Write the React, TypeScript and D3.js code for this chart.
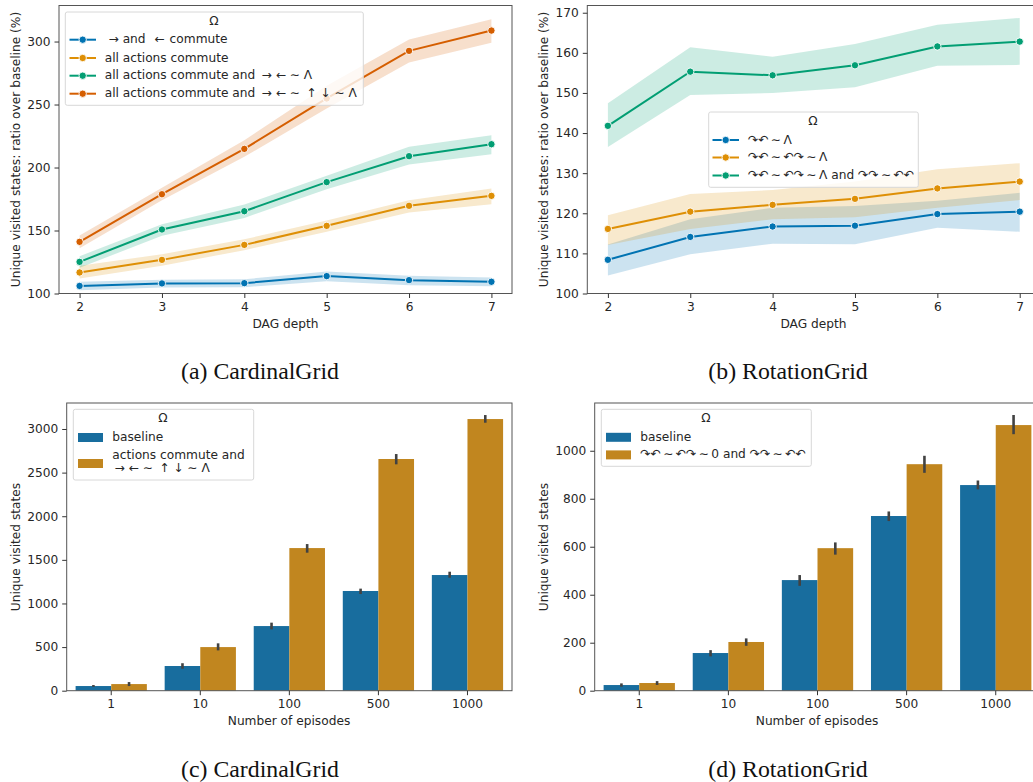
import * as d3 from 'd3';
import { useRef, useEffect } from 'react';

const depths = [2, 3, 4, 5, 6, 7];
const episodes = ['1', '10', '100', '500', '1000'];
const lineColors = ['#0173b2', '#de8f05', '#029e73', '#d55e00'];
const barColors = ['#186d9e', '#c1861f'];

// (a) CardinalGrid
const cardinalBlue = [106, 108, 108.2, 113.8, 110.6, 109.3];
const cardinalBlueLow = [102.6, 104.8, 105, 109.8, 106.6, 105.8];
const cardinalBlueHigh = [109.3, 111, 111.3, 117.5, 114, 112.7];
const cardinalOrange = [116.7, 126.7, 138.6, 153.7, 169.6, 177.5];
const cardinalOrangeLow = [111.9, 122, 134.4, 149, 164.3, 170.9];
const cardinalOrangeHigh = [122, 131.2, 143, 158, 174, 183.3];
const cardinalGreen = [125.1, 150.8, 165.3, 188.4, 209, 218.5];
const cardinalGreenLow = [120.4, 145.8, 160, 182.8, 202.4, 210.6];
const cardinalGreenHigh = [129.6, 155, 170.6, 193.4, 216.4, 225.7];
const cardinalRed = [141, 178.8, 214.8, 254.8, 292.6, 308.7];
const cardinalRedLow = [136, 174, 208.5, 246.8, 283.3, 299];
const cardinalRedHigh = [146, 183.9, 221.7, 265, 301.6, 317.7];

// (b) RotationGrid
const rotationBlue = [108.4, 114.1, 116.7, 116.9, 119.8, 120.4];
const rotationBlueLow = [104.5, 109.8, 112.4, 112.3, 116.4, 115.4];
const rotationBlueHigh = [112.2, 118.5, 121.4, 121.8, 123.1, 125.1];
const rotationOrange = [116.1, 120.4, 122.1, 123.6, 126.2, 127.9];
const rotationOrangeLow = [112.1, 116.1, 118.5, 119, 121.4, 123.3];
const rotationOrangeHigh = [119.5, 124.8, 125.8, 127.9, 131, 132.5];
const rotationGreen = [141.8, 155.3, 154.4, 156.9, 161.6, 162.8];
const rotationGreenLow = [136.5, 149.5, 150, 151.4, 156.8, 157];
const rotationGreenHigh = [147.4, 161.4, 159, 162.2, 167, 168.7];

// (c) CardinalGrid bars
const cardinalBaseline = [53.5, 283, 741, 1143, 1326];
const cardinalBaselineErr = [[44, 65], [252, 315], [703, 780], [1108, 1170], [1295, 1364]];
const cardinalActions = [76, 500, 1635, 2656, 3114];
const cardinalActionsErr = [[53, 99], [462, 543], [1582, 1681], [2595, 2713], [3072, 3160]];

// (d) RotationGrid bars
const rotationBaseline = [23.6, 157, 461, 728, 857];
const rotationBaselineErr = [[16.7, 30.5], [143, 169], [437, 482], [707, 747], [839, 876]];
const rotationActions = [32, 203, 594, 944, 1107];
const rotationActionsErr = [[24, 40], [187, 218], [567, 618], [908, 979], [1069, 1149]];

// thin spaces (\u2009) keep the glyph runs the same width as the reference
const legendA = [
  '\u00a0\u2192 and\u2009\u2009 \u2190\u200a commute',
  'all actions commute',
  'all actions commute and\u2009 \u2192 \u2190 \u223c \u039b',
  'all actions commute and\u2009 \u2192 \u2190 \u223c\u2009 \u2191 \u2193 \u223c \u039b',
];
const legendB = [
  '\u21b7\u21b6\u2009\u223c\u2009\u039b',
  '\u21b7\u21b6\u2009\u223c\u2009\u21b6\u21b7\u2009\u223c\u2009\u039b',
  '\u21b7\u21b6\u2009\u223c\u2009\u21b6\u21b7\u2009\u223c\u2009\u039b and \u21b7\u21b7\u2009\u223c\u2009\u21b6\u21b6',
];
const legendD = ['baseline', '\u21b7\u21b6\u2009\u223c\u2009\u21b6\u21b7\u2009\u223c\u20090 and \u21b7\u21b7\u2009\u223c\u2009\u21b6\u21b6'];

const font = '"DejaVu Sans"';
const ink = '#262626';
const textSize = 12.2;

type G = d3.Selection<SVGGElement, unknown, null, undefined>;

function drawFrame(g: G, left: number, right: number, top: number, bottom: number) {
  g.append('rect')
    .attr('x', left).attr('y', top)
    .attr('width', right - left).attr('height', bottom - top)
    .attr('fill', 'none').attr('stroke', '#555').attr('stroke-width', 1);
}

function styleAxis(a: d3.Selection<SVGGElement, unknown, null, undefined>) {
  a.select('.domain').remove();
  a.selectAll('line').attr('stroke', '#333');
  a.selectAll('text').attr('font-family', font).attr('font-size', textSize).attr('fill', ink);
}

function drawLabels(g: G, yText: string, xText: string, caption: string, yLabelX: number, xLabelX: number, xLabelY: number, midY: number, capX: number, capY: number) {
  g.append('text')
    .attr('transform', `translate(${yLabelX},${midY}) rotate(-90)`)
    .attr('text-anchor', 'middle').attr('dominant-baseline', 'middle')
    .attr('font-family', font).attr('font-size', textSize).attr('fill', ink)
    .text(yText);
  g.append('text')
    .attr('x', xLabelX).attr('y', xLabelY)
    .attr('text-anchor', 'middle').attr('dominant-baseline', 'middle')
    .attr('font-family', font).attr('font-size', textSize).attr('fill', ink)
    .text(xText);
  g.append('text')
    .attr('x', capX).attr('y', capY)
    .attr('text-anchor', 'middle')
    .attr('font-family', '"Liberation Serif"').attr('font-size', 23.8).attr('fill', '#111')
    .text(caption);
}

function drawLegendBox(g: G, x0: number, y0: number, x1: number, y1: number, titleX: number, titleY: number) {
  g.append('rect')
    .attr('x', x0).attr('y', y0)
    .attr('width', x1 - x0).attr('height', y1 - y0)
    .attr('rx', 2)
    .attr('fill', '#fff').attr('fill-opacity', 0.8)
    .attr('stroke', '#d8d8d8').attr('stroke-width', 1);
  g.append('text')
    .attr('x', titleX).attr('y', titleY)
    .attr('text-anchor', 'middle').attr('dominant-baseline', 'middle')
    .attr('font-family', font).attr('font-size', textSize).attr('fill', ink)
    .text('\u03a9');
}

function legendText(g: G, x: number, y: number, s: string) {
  g.append('text')
    .attr('x', x).attr('y', y)
    .attr('dominant-baseline', 'middle')
    .attr('font-family', font).attr('font-size', textSize).attr('fill', ink)
    .style('white-space', 'pre')
    .text(s);
}

interface LineSeries { mean: number[]; low: number[]; high: number[]; }

function drawLinePanel(g: G, left: number, right: number, top: number, bottom: number, yMax: number, yTicks: number[], series: LineSeries[]) {
  const x = d3.scaleLinear().domain([1.75, 7.25]).range([left, right]);
  const y = d3.scaleLinear().domain([100, yMax]).range([bottom, top]);

  const area = d3.area<number>()
    .x((_, i) => x(depths[i]));
  const line = d3.line<number>()
    .x((_, i) => x(depths[i]))
    .y(d => y(d));

  series.forEach((s, k) => {
    g.append('path')
      .attr('d', area.y0((_, i) => y(s.low[i])).y1((_, i) => y(s.high[i]))(s.mean))
      .attr('fill', lineColors[k]).attr('fill-opacity', 0.2);
  });
  series.forEach((s, k) => {
    g.append('path')
      .attr('d', line(s.mean))
      .attr('fill', 'none').attr('stroke', lineColors[k]).attr('stroke-width', 2);
    g.selectAll(null).data(s.mean).enter().append('circle')
      .attr('cx', (_, i) => x(depths[i]))
      .attr('cy', d => y(d))
      .attr('r', 3.7)
      .attr('fill', lineColors[k]).attr('stroke', '#fff').attr('stroke-width', 0.9);
  });

  drawFrame(g, left, right, top, bottom);
  g.append('g').attr('transform', `translate(0,${bottom})`)
    .call(d3.axisBottom(x).tickValues(depths).tickFormat(d3.format('d')).tickSize(4.5).tickPadding(4))
    .call(styleAxis);
  g.append('g').attr('transform', `translate(${left},0)`)
    .call(d3.axisLeft(y).tickValues(yTicks).tickFormat(d3.format('d')).tickSize(4.5).tickPadding(4))
    .call(styleAxis);
}

interface BarSeries { values: number[]; err: number[][]; }

function drawBarPanel(g: G, left: number, right: number, top: number, bottom: number, yMax: number, yTicks: number[], series: BarSeries[]) {
  const x = d3.scaleBand<string>().domain(episodes).range([left, right]);
  const inner = d3.scaleBand<number>().domain([0, 1]).range([0, x.bandwidth()]).paddingOuter(0.25);
  const y = d3.scaleLinear().domain([0, yMax]).range([bottom, top]);

  series.forEach((s, k) => {
    g.selectAll(null).data(s.values).enter().append('rect')
      .attr('x', (_, i) => x(episodes[i])! + inner(k)!)
      .attr('y', d => y(d))
      .attr('width', inner.bandwidth())
      .attr('height', d => y(0) - y(d))
      .attr('fill', barColors[k]);
  });
  series.forEach((s, k) => {
    g.selectAll(null).data(s.err).enter().append('line')
      .attr('x1', (_, i) => x(episodes[i])! + inner(k)! + inner.bandwidth() / 2)
      .attr('x2', (_, i) => x(episodes[i])! + inner(k)! + inner.bandwidth() / 2)
      .attr('y1', d => y(d[0]))
      .attr('y2', d => y(d[1]))
      .attr('stroke', '#424242').attr('stroke-width', 2.6);
  });

  drawFrame(g, left, right, top, bottom);
  g.append('g').attr('transform', `translate(0,${bottom})`)
    .call(d3.axisBottom(x).tickSize(4.5).tickPadding(4))
    .call(styleAxis);
  g.append('g').attr('transform', `translate(${left},0)`)
    .call(d3.axisLeft(y).tickValues(yTicks).tickFormat(d3.format('d')).tickSize(4.5).tickPadding(4))
    .call(styleAxis);
}

const App = () => {
  const ref = useRef<SVGSVGElement>(null);

  useEffect(() => {
    if (!ref.current) return;
    const svg = d3.select(ref.current);
    svg.selectAll('*').remove();
    const g = svg.append('g') as unknown as G;

    const yLine = 'Unique visited states: ratio over baseline (%)';
    const yBar = 'Unique visited states';

    // (a)
    drawLinePanel(g, 59, 512, 5.5, 293.5, 328.6, [100, 150, 200, 250, 300], [
      { mean: cardinalBlue, low: cardinalBlueLow, high: cardinalBlueHigh },
      { mean: cardinalOrange, low: cardinalOrangeLow, high: cardinalOrangeHigh },
      { mean: cardinalGreen, low: cardinalGreenLow, high: cardinalGreenHigh },
      { mean: cardinalRed, low: cardinalRedLow, high: cardinalRedHigh },
    ]);
    drawLabels(g, yLine, 'DAG depth', '(a) CardinalGrid', 16.2, 285.5, 324, 149.5, 260, 378.8);
    drawLegendBox(g, 65.3, 12, 363.3, 105.3, 214, 21.5);
    legendA.forEach((s, i) => {
      const ry = [39.7, 58, 75.7, 93.7][i];
      g.append('line').attr('x1', 69.5).attr('x2', 96).attr('y1', ry).attr('y2', ry)
        .attr('stroke', lineColors[i]).attr('stroke-width', 2);
      g.append('circle').attr('cx', 82.7).attr('cy', ry).attr('r', 3.7)
        .attr('fill', lineColors[i]).attr('stroke', '#fff').attr('stroke-width', 0.9);
      legendText(g, 104.7, ry, s);
    });

    // (b)
    drawLinePanel(g, 587.3, 1040.3, 5.5, 293.5, 171.8, [100, 110, 120, 130, 140, 150, 160, 170], [
      { mean: rotationBlue, low: rotationBlueLow, high: rotationBlueHigh },
      { mean: rotationOrange, low: rotationOrangeLow, high: rotationOrangeHigh },
      { mean: rotationGreen, low: rotationGreenLow, high: rotationGreenHigh },
    ]);
    drawLabels(g, yLine, 'DAG depth', '(b) RotationGrid', 544, 813.5, 324, 149.5, 788, 378.8);
    drawLegendBox(g, 708.7, 112, 918.3, 187.3, 813, 121.5);
    legendB.forEach((s, i) => {
      const ry = [140, 157.5, 175.5][i];
      g.append('line').attr('x1', 712.5).attr('x2', 739).attr('y1', ry).attr('y2', ry)
        .attr('stroke', lineColors[i]).attr('stroke-width', 2);
      g.append('circle').attr('cx', 725.7).attr('cy', ry).attr('r', 3.7)
        .attr('fill', lineColors[i]).attr('stroke', '#fff').attr('stroke-width', 0.9);
      legendText(g, 748, ry, s);
    });

    // (c)
    drawBarPanel(g, 66.7, 512, 403, 690.7, 3298, [0, 500, 1000, 1500, 2000, 2500, 3000], [
      { values: cardinalBaseline, err: cardinalBaselineErr },
      { values: cardinalActions, err: cardinalActionsErr },
    ]);
    drawLabels(g, yBar, 'Number of episodes', '(c) CardinalGrid', 16.2, 289, 721, 547, 260, 776.8);
    drawLegendBox(g, 73.3, 409.3, 253.7, 480, 163, 418.7);
    g.append('rect').attr('x', 78).attr('y', 433).attr('width', 25).attr('height', 9).attr('fill', barColors[0]);
    g.append('rect').attr('x', 78).attr('y', 459).attr('width', 25).attr('height', 9).attr('fill', barColors[1]);
    legendText(g, 112.3, 437.3, 'baseline');
    legendText(g, 112.3, 455, 'actions commute and');
    legendText(g, 114.5, 468, '\u2192 \u2190 \u223c\u2009 \u2191 \u2193 \u223c \u039b');

    // (d)
    drawBarPanel(g, 594.7, 1040.3, 403, 690.7, 1199, [0, 200, 400, 600, 800, 1000], [
      { values: rotationBaseline, err: rotationBaselineErr },
      { values: rotationActions, err: rotationActionsErr },
    ]);
    drawLabels(g, yBar, 'Number of episodes', '(d) RotationGrid', 544, 817, 721, 547, 788, 776.8);
    drawLegendBox(g, 601.3, 409.3, 811.3, 466.3, 706, 418.7);
    legendD.forEach((s, i) => {
      const ry = [437.3, 454.9][i];
      g.append('rect').attr('x', 606).attr('y', ry - 4.5).attr('width', 25).attr('height', 9).attr('fill', barColors[i]);
      legendText(g, 640.3, ry, s);
    });
  }, []);

  return (
    <svg
      ref={ref}
      width={1033}
      height={782}
      style={{ position: 'absolute', left: 0, top: 0, background: '#fff' }}
    />
  );
};

export default App;
